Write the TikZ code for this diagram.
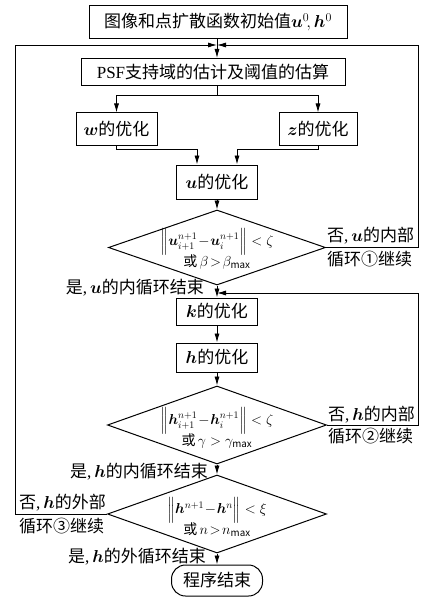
\documentclass[tikz,border=0pt]{standalone}
\usepackage{amsmath,bm}
\usepackage{fontspec}
\setmainfont{Noto Sans CJK SC}
\newfontfamily\latin{Liberation Serif}
\usetikzlibrary{shapes.geometric,arrows.meta}

\tikzset{
  box/.style={draw,line width=1pt,inner sep=2pt,minimum height=30pt},
  decision/.style={draw,diamond,line width=1pt,inner sep=0pt},
  term/.style={draw,line width=1pt,rounded corners=14pt,minimum width=91pt,minimum height=31pt},
  line/.style={line width=0.8pt},
  arr/.style={line width=0.8pt,-{Latex[length=9pt,width=5pt]}},
  cond/.style={font=\fontsize{14}{17}\selectfont,align=center,inner sep=0pt},
  note/.style={align=left,inner sep=1pt}
}

\begin{document}
\begin{tikzpicture}[x=1pt,y=-1pt,font=\fontsize{17}{24}\selectfont]

            \useasboundingbox (0,0) rectangle (422,599);

            % boxes of the main column
            \node[box,minimum width=258pt,minimum height=33pt] (init) at (218,22.5)
            {图像和点扩散函数初始值$\bm{u}^0\!,\bm{h}^0$};
            \node[box,minimum width=264pt,minimum height=27pt] (psf) at (213,72)
            {{\latin PSF}支持域的估计及阈值的估算};
            \node[box,minimum width=81pt,minimum height=32pt] (w) at (116.5,129)
            {$\bm{w}$的优化};
            \node[box,minimum width=78pt,minimum height=32pt] (z) at (318,129)
            {$\bm{z}$的优化};
            \node[box,minimum width=81pt,minimum height=34pt] (u) at (217,182)
            {$\bm{u}$的优化};
            \node[decision,minimum width=217pt,minimum height=75pt] (ud) at (217,247.5) {};
            \node[box,minimum width=81pt,minimum height=27pt] (k) at (217,311.5)
            {$\bm{k}$的优化};
            \node[box,minimum width=81pt,minimum height=29pt] (h) at (217,357.5)
            {$\bm{h}$的优化};
            \node[decision,minimum width=219pt,minimum height=78pt] (hd) at (217,425) {};
            \node[decision,minimum width=219pt,minimum height=78pt] (od) at (217,514) {};
            \node[term] (end) at (217,580.5) {程序结束};

            % conditions
            \node[cond] (udtext) at (217,249)
            {$\Big\|\bm{u}^{n+1}_{i+1}\!-\!\bm{u}^{n+1}_{i}\Big\|<\zeta$\\[-1pt]或\,$\beta\!>\!\beta_{\max}$};
            \node[cond] (hdtext) at (217,428)
            {$\Big\|\bm{h}^{n+1}_{i+1}\!-\!\bm{h}^{n+1}_{i}\Big\|<\zeta$\\[-1pt]或\,$\gamma>\gamma_{\max}$};
            \node[cond] (odtext) at (217,517)
            {$\Big\|\bm{h}^{n+1}\!-\!\bm{h}^{n}\Big\|<\xi$\\[-1pt]或\,$n\!>\!n_{\max}$};

            % helper points
            \coordinate (m1) at (217,45);
            \coordinate (m2) at (217,293);
            \coordinate (sp) at (217,95);
            \coordinate (wj) at (197,149);
            \coordinate (zj) at (237,149);
            \coordinate (rr) at (418,0);
            \coordinate (ll) at (15,0);

            \draw[arr] (init.south -| m1) -- (psf.north -| m1);
            \draw[line] (psf.south -| sp) -- (sp);
            \draw[arr] (sp) -| (w.north);
            \draw[arr] (sp) -| (z.north);
            \draw[arr] (w.south) |- (wj) -- (u.north -| wj);
            \draw[arr] (z.south) |- (zj) -- (u.north -| zj);
            \draw[arr] (u) -- (ud);
            \draw[arr] (ud) -- (k);
            \draw[arr] (k) -- (h);
            \draw[arr] (h) -- (hd);
            \draw[arr] (hd) -- (od);
            \draw[arr] (od) -- (end);

            % loops
            \draw[arr] (ud.east) -- (ud.east -| rr) -- (m1 -| rr) -- (m1);
            \draw[arr] (hd.east) -- (hd.east -| rr) -- (m2 -| rr) -- (m2);
            \draw[arr] (od.west) -- (od.west -| ll) -- (m1 -| ll) -- (m1);

            % branch notes
            \node[note,anchor=west] (uno) at (ud.east)
            {否{\latin ,}\,$\bm{u}$的内部\\循环①继续};
            \node[note,anchor=west] (hno) at (hd.east)
            {否{\latin ,}\,$\bm{h}$的内部\\[-2pt]循环②继续};
            \node[note,anchor=east] (ono) at (od.west)
            {否{\latin ,}\,$\bm{h}$的外部\\循环③继续};
            \node[note,anchor=east] (uyes) at (205,288)
            {是{\latin ,}\,$\bm{u}$的内循环结束};
            \node[note,anchor=east] (hyes) at (209,472)
            {是{\latin ,}\,$\bm{h}$的内循环结束};
            \node[note,anchor=east] (oyes) at (207,557)
            {是{\latin ,}\,$\bm{h}$的外循环结束};
        \end{tikzpicture}
\end{document}
